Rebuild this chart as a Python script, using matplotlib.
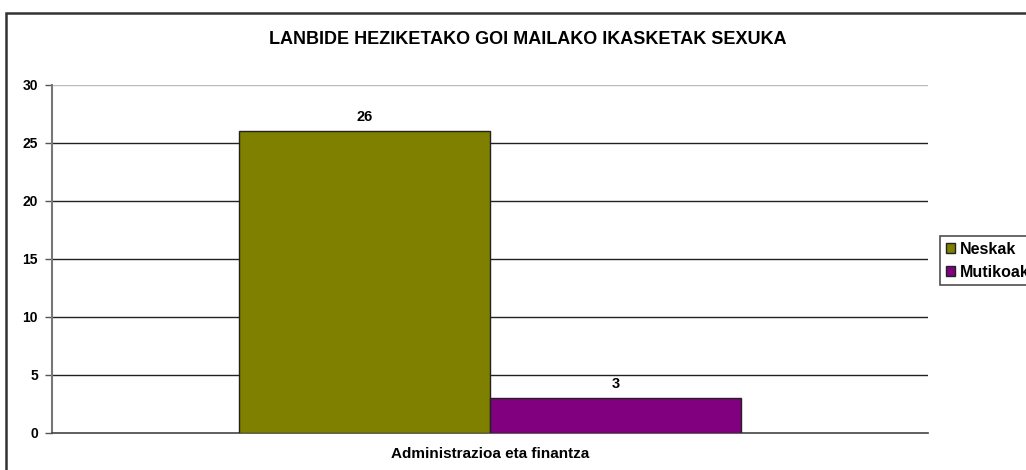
import numpy as np
import matplotlib.pyplot as plt
from matplotlib.patches import Rectangle

plt.rcParams["font.family"] = ["Liberation Sans", "DejaVu Sans"]

categories = ["Administrazioa eta finantza"]
series_names = ["Neskak", "Mutikoak"]
neskak = [26]
mutikoak = [3]
yticks = [0, 5, 10, 15, 20, 25, 30]

W, H = 1026, 470
fig = plt.figure(figsize=(W / 100, H / 100), dpi=100)

# outer chart frame (runs off the right and bottom edges)
fig.patches.append(Rectangle((6 / W, -0.1), 1.2, 1 - 13 / H + 0.1,
                             transform=fig.transFigure, fill=False,
                             edgecolor="#333333", linewidth=1.8))

ax = fig.add_axes([52 / W, 1 - 433 / H, 876 / W, 348 / H])

x = np.arange(len(categories))
bw = 0.2865
b1 = ax.bar(x - bw / 2, neskak, bw, color="#808000", edgecolor="#222222",
            linewidth=1.0, label=series_names[0], zorder=3)
b2 = ax.bar(x + bw / 2, mutikoak, bw, color="#800080", edgecolor="#222222",
            linewidth=1.0, label=series_names[1], zorder=3)

for bars in (b1, b2):
    for r in bars:
        ax.text(r.get_x() + r.get_width() / 2, r.get_height() + 0.6,
                f"{r.get_height():.0f}", ha="center", va="bottom",
                fontsize=10.5, fontweight="bold")

ax.set_xlim(-0.5, 0.5)
ax.set_ylim(0, 30)
ax.set_yticks(yticks)
ax.set_yticklabels([str(v) for v in yticks], fontsize=10, fontweight="bold")
ax.set_xticks(x)
ax.set_xticklabels(categories, fontsize=11, fontweight="bold")
ax.tick_params(axis="x", length=0, pad=10)
ax.tick_params(axis="y", length=5, width=1, color="#555555", pad=5)

for v in yticks[1:]:
    ax.axhline(v, color="#bbbbbb" if v == 30 else "#222222",
               linewidth=1.0, zorder=1)

for s in ("top", "right"):
    ax.spines[s].set_visible(False)
ax.spines["left"].set_color("#777777")
ax.spines["left"].set_linewidth(1.5)
ax.spines["bottom"].set_color("#444444")
ax.spines["bottom"].set_linewidth(1.2)

fig.text(528 / W, 1 - 40 / H, "LANBIDE HEZIKETAKO GOI MAILAKO IKASKETAK SEXUKA",
         ha="center", va="center", fontsize=13, fontweight="bold")

leg = fig.legend(loc="upper left", bbox_to_anchor=(940 / W, 1 - 236 / H),
                 prop={"weight": "bold", "size": 11.5},
                 frameon=True, fancybox=False, edgecolor="#222222",
                 handlelength=0.6, handleheight=0.6, handletextpad=0.3,
                 borderpad=0.35, labelspacing=0.5, borderaxespad=0)
leg.get_frame().set_linewidth(1.2)

fig.savefig("out.png", dpi=100)
